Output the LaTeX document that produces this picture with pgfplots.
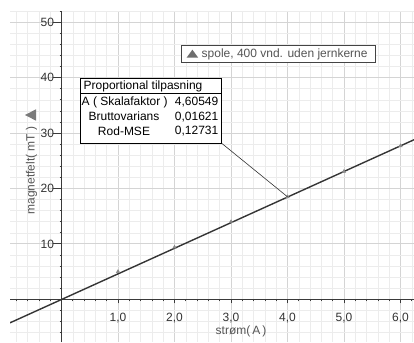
\documentclass[border=0pt]{standalone}
\usepackage{pgfplots}
\pgfplotsset{compat=1.18}
\usepackage{fontspec}
\setmainfont{Liberation Sans}
\definecolor{gmaj}{HTML}{D4D4D4}
\definecolor{gmin}{HTML}{ECECEC}
\definecolor{axiscol}{HTML}{3A3A3A}
\definecolor{tickcol}{HTML}{333333}
\definecolor{labcol}{HTML}{555555}
\definecolor{legtext}{HTML}{555555}
\definecolor{legdraw}{HTML}{444444}
\definecolor{markcol}{HTML}{8A8A8A}
\definecolor{linecol}{HTML}{353535}
\definecolor{arrowcol}{HTML}{7A7A7A}
\newcommand\ff{\fontsize{12pt}{14pt}\selectfont}
\begin{document}
\begin{tikzpicture}
\begin{axis}[
  at={(0pt,0pt)}, anchor=south west,
  scale only axis, width=404pt, height=331pt,
  xmin=-0.912, xmax=6.239, ymin=-7.71, ymax=52.04,
  axis lines=middle,
  axis line style={-, draw=axiscol, line width=1.4pt},
  xtick={-1,0,...,7},
  xticklabels={,,1{,}0,2{,}0,3{,}0,4{,}0,5{,}0,6{,}0,},
  ytick={-10,0,...,60},
  yticklabels={,,10,20,30,40,50,},
  minor x tick num=4, minor y tick num=4,
  grid=both,
  major grid style={draw=gmaj, line width=0.9pt},
  minor grid style={draw=gmin, line width=0.6pt},
  tick align=outside,
  major tick length=4pt, minor tick length=2pt,
  tick style={draw=axiscol, line width=0.8pt},
  ytick style={/pgfplots/major tick length=9pt},
  xticklabel style={anchor=north, yshift=-6pt, font=\ff, text=tickcol},
  yticklabel style={anchor=east, xshift=0pt, font=\ff, text=tickcol},
  legend style={at={(axis description cs:0.4225,0.897)}, anchor=north west,
    draw=legdraw, line width=0.8pt, fill=white, inner xsep=5.5pt, inner ysep=1.5pt,
    font=\ff, text=legtext},
  legend cell align=left,
  legend image code/.code={\fill[draw=none, fill=markcol!80!black] (0pt,-3.6pt) -- (11.6pt,-3.6pt) -- (5.8pt,4.4pt) -- cycle;},
]
\addplot[only marks, mark=triangle*, mark size=2pt, color=markcol]
  coordinates {(1,5.0) (2,9.4) (3,14.0) (4,18.5) (5,23.1) (6,27.7)};
\addlegendentry{\hspace{1.5pt}spole, 400 vnd. uden jernkerne\hspace{3pt}}
\addplot[forget plot, line width=1.4pt, draw=linecol]
  coordinates {(-0.912,-4.25) (6.239,28.8)};
\coordinate (p4) at (axis cs:4,18.5);
\end{axis}
\begin{scope}[xshift=-10pt, yshift=342pt, x=1pt, y=-1pt, font=\ff]
  \draw[line width=0.6pt, draw=black!80] (221.7,143.3) -- (p4);
  \fill[white] (80,78.3) rectangle (221.7,143.3);
  \draw[black, line width=0.8pt] (80,78.3) rectangle (221.7,143.3);
  \draw[black, line width=0.6pt] (80,93.3) -- (221.7,93.3);
  \node[anchor=west, inner sep=0pt] at (83.5,86.3) {Proportional tilpasning};
  \node[anchor=west, inner sep=0pt] at (81.5,102.3) {A ( Skalafaktor )};
  \node[inner sep=0pt] at (124,116.7) {Bruttovarians};
  \node[inner sep=0pt] at (124,131) {Rod-MSE};
  \node[anchor=east, inner sep=0pt] at (218.5,102.3) {4,60549};
  \node[anchor=east, inner sep=0pt] at (218.5,116.7) {0,01621};
  \node[anchor=east, inner sep=0pt] at (218.5,131) {0,12731};
  \fill[arrowcol] (36,109.3) -- (36,120.7) -- (25,115) -- cycle;
  \node[rotate=90, text=labcol, inner sep=0pt] at (31.5,170.5) {magnetfelt( mT )};
  \node[text=labcol, inner sep=0pt] at (241,331) {strøm(\,A\,)};
\end{scope}
\pgfresetboundingbox
\path[use as bounding box] (-10pt,0pt) rectangle (404pt,342pt);
\end{tikzpicture}
\end{document}
